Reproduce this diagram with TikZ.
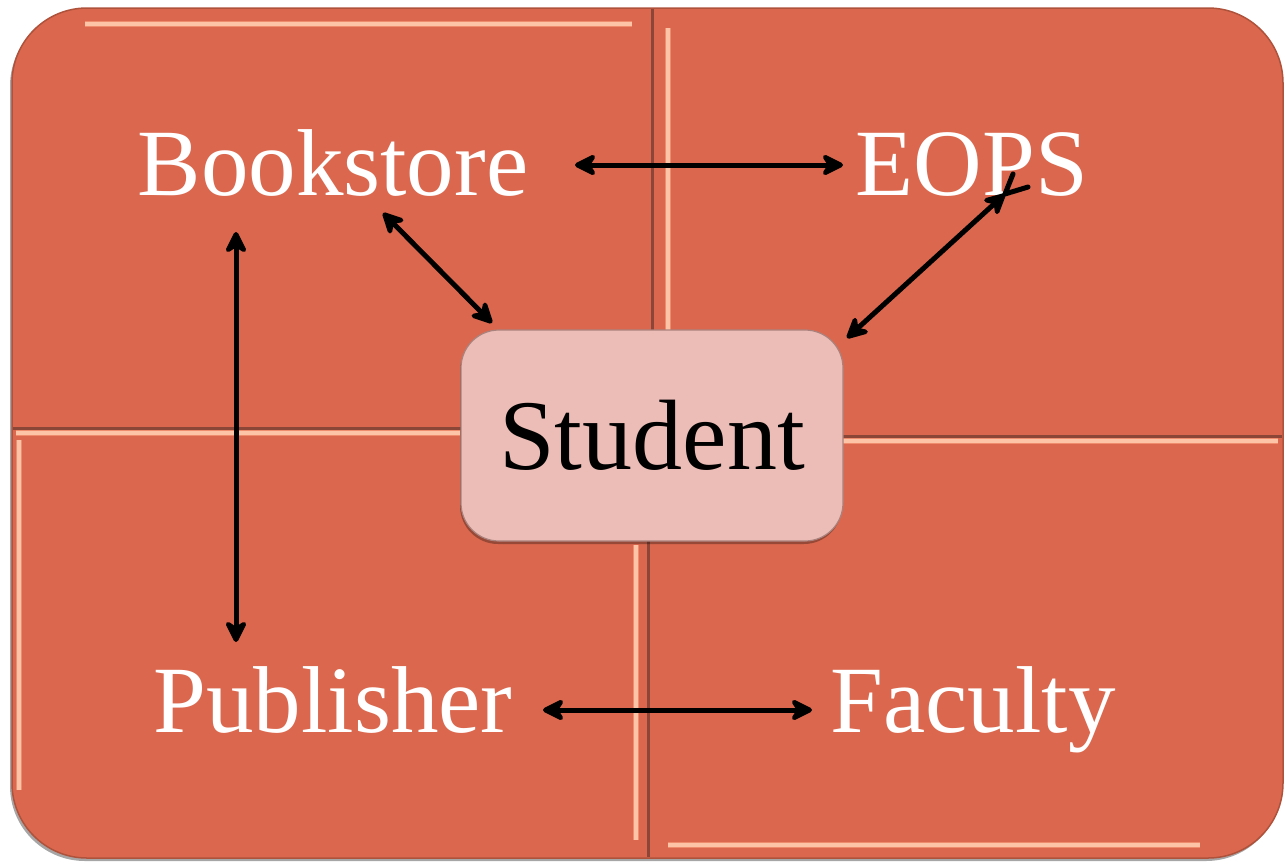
\documentclass[tikz,border=0pt]{standalone}
\usepackage{fontspec}
\setmainfont{Liberation Serif}
\usetikzlibrary{arrows.meta,shadows,calc}
\definecolor{base}{RGB}{219,104,78}
\definecolor{edgec}{RGB}{175,82,60}
\definecolor{divd}{RGB}{140,70,55}
\definecolor{hl}{RGB}{240,140,110}
\definecolor{hlc}{RGB}{253,196,168}
\definecolor{stu}{RGB}{236,189,183}
\definecolor{stuedge}{RGB}{170,130,125}
\begin{document}
\begin{tikzpicture}[x=1pt,y=-1pt,
  lab/.style={text=white, font=\fontsize{95}{100}\selectfont, inner sep=0pt, anchor=base},
  hlline/.style={line width=6pt, hl},
  hlcore/.style={line width=3.5pt, hlc},
  divline/.style={line width=3pt, divd},
  tipst/.style={Stealth[length=27pt,width=27pt,inset=9pt,round]},
  arr/.style={line width=5pt, black, line cap=round, {Stealth[length=27pt,width=27pt,inset=9pt,round]}-{Stealth[length=27pt,width=27pt,inset=9pt,round]}}]
\useasboundingbox (0,0) rectangle (1285,863);
% background panel
\path[draw=edgec, line width=1.5pt, fill=base, rounded corners=75pt,
  drop shadow={shadow xshift=-2pt, shadow yshift=-3pt, opacity=.35, fill=black}]
  (12,8) rectangle (1283,858);
% dividers
\draw[divline] (652,9) -- (652,435);
\draw[divline] (648,435) -- (648,857);
\draw[divline] (13,428) -- (652,428);
\draw[divline] (652,436) -- (1282,436);
% bevel highlights
\foreach \a/\b in {{(85,24)}/{(632,24)}, {(668,28)}/{(668,330)}, {(16,433)}/{(460,433)},
  {(19,440)}/{(19,790)}, {(636,545)}/{(636,840)}, {(843,441)}/{(1278,441)}, {(668,845)}/{(1200,845)}}{
  \draw[hlline] \a -- \b;
  \draw[hlcore] \a -- \b;
}
% labels
\node[lab] (Bookstore) at (333,195) {Bookstore};
\node[lab] (EOPS) at (972,195) {EOPS};
\node[lab] (Publisher) at (333,732) {Publisher};
\node[lab] (Faculty) at (973,732) {Faculty};
\node[draw=stuedge, line width=1.2pt, fill=stu, rounded corners=38pt,
  minimum width=382pt, minimum height=211pt, inner sep=0pt,
  font=\fontsize{100}{110}\selectfont, text=black,
  drop shadow={shadow xshift=-1pt, shadow yshift=-3pt, opacity=.3, fill=black}]
  (Student) at (652,435.5) {Student};
% connector ends
\coordinate (b1) at (575,165);  \coordinate (e1) at (843,165);
\coordinate (b2) at (383,213);  \coordinate (s2) at (492,323);
\coordinate (e3) at (1005,194); \coordinate (s3) at (847,338);
\coordinate (b4) at (236,232);  \coordinate (p4) at (236,642);
\coordinate (p5) at (543,710);  \coordinate (f5) at (812,710);
\coordinate (t1) at (1013,174); \coordinate (t2) at (1028,187);
% connectors
\draw[arr] (b1) -- (e1);
\draw[arr] (b2) -- (s2);
\draw[arr] (e3) -- (s3);
\draw[arr] (b4) -- (p4);
\draw[arr] (p5) -- (f5);
\draw[line width=5pt, line cap=round] (e3) -- (t1) (e3) -- (t2);
\end{tikzpicture}
\end{document}
